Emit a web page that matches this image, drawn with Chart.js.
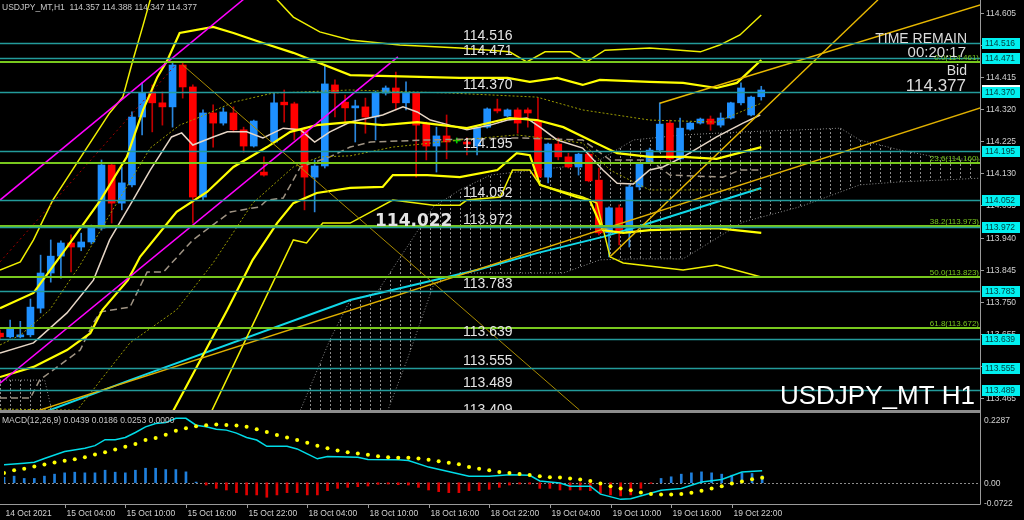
<!DOCTYPE html>
<html>
<head>
<style>
  body { margin: 0; background: #000; }
  #wrap { position: relative; width: 1024px; height: 520px; background: #000; overflow: hidden; }
  canvas { position: absolute; left: 0; }
  #main { top: 0; }
  #macd { top: 410px; }
</style>
<title>USDJPY_MT H1</title>
</head>
<body>
<div id="wrap">
  <canvas id="main" width="1024" height="410"></canvas>
  <canvas id="macd" width="1024" height="110"></canvas>
</div>
<script src="https://cdn.jsdelivr.net/npm/chart.js@4"></script>
<script>
// ---- candles, one per hour, bar 0 = 14 Oct 22:00 ----
var opens  = [113.657,113.646,113.646,113.652,113.731,113.835,113.885,113.924,113.912,113.927,
              113.968,114.155,114.042,114.096,114.297,114.371,114.339,114.327,114.451,114.386,
              114.060,114.309,114.279,114.309,114.259,114.211,114.134,114.223,114.341,114.336,
              114.259,114.119,114.152,114.392,114.341,114.324,114.327,114.297,114.368,114.383,
              114.339,114.368,114.276,114.211,114.241,114.226,114.223,114.211,114.267,114.321,
              114.300,114.318,114.318,114.285,114.119,114.217,114.179,114.149,114.187,114.110,
              113.954,114.028,113.954,114.090,114.164,114.199,114.279,114.173,114.261,114.279,
              114.291,114.273,114.294,114.339,114.303,114.357];
var highs  = [113.666,113.696,113.692,113.758,113.888,113.933,113.930,113.948,113.953,113.977,
              114.170,114.158,114.149,114.312,114.398,114.392,114.371,114.460,114.460,114.392,
              114.318,114.333,114.324,114.327,114.267,114.288,114.179,114.368,114.377,114.341,
              114.267,114.170,114.451,114.407,114.362,114.347,114.353,114.374,114.389,114.430,
              114.401,114.368,114.282,114.267,114.303,114.235,114.235,114.267,114.324,114.350,
              114.321,114.324,114.324,114.353,114.220,114.235,114.190,114.190,114.193,114.146,
              114.031,114.037,114.096,114.161,114.205,114.339,114.288,114.294,114.282,114.294,
              114.300,114.309,114.341,114.398,114.359,114.388];
var lows   = [113.637,113.643,113.643,113.646,113.717,113.808,113.820,113.838,113.901,113.921,
              113.962,113.983,114.022,114.090,114.244,114.253,114.273,114.267,114.353,113.983,
              114.051,114.208,114.273,114.253,114.193,114.208,114.122,114.220,114.282,114.229,
              114.022,114.016,114.146,114.297,114.282,114.223,114.249,114.229,114.362,114.318,
              114.318,114.119,114.170,114.134,114.173,114.220,114.185,114.185,114.264,114.309,
              114.297,114.249,114.267,114.116,114.102,114.170,114.146,114.125,114.105,113.948,
              113.883,113.918,113.912,114.081,114.161,114.193,114.170,114.170,114.258,114.276,
              114.258,114.267,114.291,114.333,114.300,114.347];
var closes = [113.646,113.669,113.652,113.734,113.835,113.885,113.924,113.912,113.927,113.971,
              114.155,114.042,114.102,114.297,114.368,114.339,114.327,114.451,114.386,114.060,
              114.309,114.279,114.312,114.259,114.211,114.285,114.125,114.339,114.333,114.259,
              114.119,114.152,114.395,114.368,114.324,114.330,114.297,114.368,114.383,114.339,
              114.368,114.273,114.211,114.241,114.223,114.226,114.217,114.267,114.321,114.315,
              114.318,114.279,114.309,114.119,114.217,114.179,114.149,114.187,114.108,113.954,
              114.028,113.954,114.090,114.158,114.199,114.276,114.173,114.264,114.279,114.291,
              114.276,114.294,114.339,114.383,114.356,114.377];

// ---- indicator lines: [bar index, price] ----
var bbUp3  = [[0,113.844],[2.0,113.868],[3.3,113.933],[5.2,114.051],[8.6,114.208],[10.8,114.309],[12.1,114.356],
              [13.1,114.466],[14.1,114.569],[14.8,114.644],[17.7,114.792],[23.6,114.762],[27.3,114.644],[28.9,114.593],
              [31.5,114.549],[34.5,114.525],[39.4,114.510],[45.3,114.501],[50.2,114.490],[51.9,114.460],[53.7,114.490],
              [56.2,114.490],[57.8,114.460],[59.6,114.495],[64.0,114.501],[69.0,114.490],[70.9,114.510],[72.9,114.540],[75,114.599]];
var bbUp2  = [[0,113.731],[3.3,113.776],[6.6,113.912],[9.9,114.051],[12.5,114.179],[14.1,114.318],[15.5,114.415],
              [16.5,114.466],[17.7,114.546],[21.0,114.564],[23.0,114.546],[25.6,114.519],[28.9,114.487],[34.5,114.421],
              [45.3,114.413],[50.0,114.413],[52.2,114.401],[54.9,114.413],[57.4,114.392],[59.1,114.407],[64.0,114.401],
              [67.3,114.398],[70.6,114.383],[72.6,114.398],[75,114.466]];
var bbUp1  = [[0,113.622],[2.0,113.651],[4.9,113.726],[7.9,113.859],[10.8,114.007],[14.8,114.205],[17.7,114.273],
              [19.7,114.297],[23.0,114.341],[26.9,114.368],[29.6,114.371],[34.5,114.377],[44.3,114.368],[52.9,114.356],
              [57.4,114.318],[64.0,114.288],[70.6,114.282],[75,114.338]];
var bbMid  = [[0,113.527],[3.3,113.557],[6.6,113.607],[8.9,113.657],[10.1,113.726],[12.6,113.814],[13.8,113.883],
              [17.4,114.016],[20.4,114.075],[23.0,114.149],[26.3,114.208],[28.6,114.253],[31.2,114.273],[34.5,114.282],
              [37.7,114.273],[41.1,114.282],[46.0,114.264],[50.2,114.294],[52.9,114.288],[55.5,114.267],[58.1,114.229],
              [60.8,114.190],[64.0,114.179],[67.3,114.179],[70.6,114.173],[75,114.208]];
var bbLow1 = [[0,113.432],[7.6,113.429],[12.8,113.628],[17.4,113.726],[21.0,113.865],[24.9,114.042],[28.9,114.149],
              [31.5,114.179],[34.5,114.182],[38.7,114.208],[45.3,114.229],[50.9,114.244],[57.4,114.220],[60.1,114.140],
              [64.0,114.081],[75,114.081]];
var bbLow2 = [[14.8,113.281],[17.1,113.429],[22.4,113.726],[24.9,113.874],[27.3,113.983],[28.9,114.042],[31.2,114.072],
              [34.5,114.087],[37.7,114.090],[38.7,114.125],[42.1,114.125],[45.3,114.119],[49.0,114.140],[50.9,114.190],
              [52.2,114.184],[53.2,114.096],[56.8,114.060],[58.1,114.051],[59.4,113.962],[61.4,113.954],[64.0,113.962],
              [70.6,113.968],[75,113.954]];
var bbLow3 = [[18.7,113.281],[20.9,113.429],[25.6,113.726],[28.9,113.933],[30.2,113.924],[31.8,113.983],[34.5,113.983],
              [38.7,114.051],[42.7,114.036],[45.3,114.036],[46.0,114.051],[49.3,114.060],[50.5,114.140],[52.2,114.140],
              [53.2,114.096],[57.4,114.060],[58.8,114.042],[60.1,113.883],[61.4,113.865],[67.3,113.844],[70.6,113.859],[75,113.823]];
var tenkan = [[0,113.598],[3.3,113.628],[6.6,113.717],[9.2,113.814],[10.8,113.933],[13.1,114.051],[14.8,114.140],
              [16.9,114.238],[17.9,114.250],[19.0,114.214],[21.0,114.238],[22.4,114.253],[24.3,114.253],[25.9,114.235],
              [27.9,114.264],[29.6,114.259],[31.0,114.223],[32.5,114.253],[34.5,114.282],[37.7,114.303],[39.7,114.327],
              [41.1,114.312],[42.4,114.288],[44.3,114.273],[46.0,114.259],[48.3,114.273],[50.0,114.288],[51.9,114.294],
              [53.2,114.267],[54.9,114.229],[57.4,114.205],[59.4,114.140],[60.8,114.101],[62.4,114.099],[64.0,114.140],
              [65.3,114.149],[67.3,114.179],[70.6,114.238],[73.2,114.279],[74.9,114.303]];
var kijun  = [[0,113.465],[3.0,113.465],[3.9,113.518],[7.9,113.607],[9.2,113.687],[9.9,113.720],[12.8,113.734],
              [14.5,113.838],[16.1,113.838],[19.0,113.933],[22.7,114.016],[25.6,114.031],[26.3,114.051],[27.9,114.057],
              [29.6,114.149],[32.5,114.179],[34.5,114.208],[36.5,114.223],[42.1,114.229],[50.9,114.235],[57.4,114.229],
              [60.1,114.170],[64.0,114.170],[66.0,114.125],[71.2,114.119],[72.9,114.140],[74.9,114.140]];
var cloudIdx  = [0,4.4,5.1,5.9,27.6,29.6,32.5,34.5,37.1,40.1,42.7,45.3,48.3,50.9,55.5,59.1,62.4,67.3,73.2,78.8,82.8,84.7,88.7,92.6,96.6];
var cloudTop  = [113.518,113.518,113.429,113.370,113.370,113.429,113.637,113.755,113.776,113.912,114.031,114.081,114.125,
                 114.134,114.149,114.170,114.229,114.244,114.253,114.259,114.264,114.229,114.199,114.176,114.170];
var cloudBase = [113.429,113.429,113.400,113.341,113.341,113.341,113.341,113.341,113.341,113.577,113.799,113.835,113.835,
                 113.835,113.835,113.874,113.877,113.877,113.986,114.031,114.075,114.096,114.105,114.110,114.116];
var maCyan    = [[0,113.373],[4.9,113.429],[12.8,113.518],[34.5,113.755],[47.0,113.844],[52.9,113.894],[59.4,113.942],[64.0,113.983],[75,114.087]];
var chikouRed = [[0,113.868],[17.2,114.448]];
var chanHigh  = [[0,114.051],[24.5,114.658]];
var chanLow   = [[0,113.509],[39.2,114.475]];
var trendLong = [[3.9,113.429],[96.6,114.324]];
var trendUp   = [[60.1,113.883],[86.5,114.644]];
var trendTop  = [[65.0,114.338],[96.6,114.629]];
var trendDown = [[18.0,114.451],[57.1,113.429]];

// ---- levels and labels ----
var tealLevels = [114.516,114.471,114.370,114.195,114.052,113.972,113.783,113.639,113.555,113.489,113.409];
var fibLevels  = [114.461,114.160,113.973,113.823,113.672];
var fibNames   = ['0.0','23.6','38.2','50.0','61.8'];
var yTicks     = [114.605,114.510,114.415,114.320,114.225,114.130,114.035,113.940,113.845,113.750,113.655,113.560,113.465];
var bidPrice   = 114.377;
var markLabel  = '114.022';
var timeIdx    = [0,6,12,18,24,30,36,42,48,54,60,66,72];
var timeLabels = ['14 Oct 2021','15 Oct 04:00','15 Oct 10:00','15 Oct 16:00','15 Oct 22:00','18 Oct 04:00','18 Oct 10:00',
                  '18 Oct 16:00','18 Oct 22:00','19 Oct 04:00','19 Oct 10:00','19 Oct 16:00','19 Oct 22:00'];

// ---- MACD(12,26,9) ----
var macdLine = [[0,0.0655],[2,0.0713],[3,0.0749],[4,0.0882],[6,0.1134],[8,0.1253],[9,0.135],[10,0.1566],[11,0.1566],
                [12,0.1649],[13,0.1829],[14,0.2034],[15,0.2153],[16,0.2189],[17,0.2347],[18,0.2347],[19,0.2095],[20,0.2034],
                [21,0.1951],[22,0.1915],[23,0.1807],[24,0.1649],[25,0.1555],[26,0.1325],[28,0.1325],[29,0.1231],[30,0.1051],
                [31,0.0871],[32,0.0954],[35,0.0929],[36,0.0846],[39,0.0835],[40,0.081],[42,0.0569],[46,0.0234],[48,0.0234],
                [50,0.0295],[52,0.027],[53,0.0065],[55,-0.0007],[56,-0.0126],[58,-0.0126],[59,-0.0414],[61,-0.0605],
                [62,-0.0583],[65,-0.027],[67,-0.0209],[69,0.0029],[71,0.0115],[73,0.0389],[75,0.0439]];
var macdSignal = [0.0353,0.0450,0.0511,0.0594,0.0666,0.0738,0.0799,0.0857,0.0929,0.1026,
                  0.1109,0.1206,0.1314,0.1411,0.1555,0.1627,0.1746,0.1890,0.1987,0.2059,
                  0.2095,0.2117,0.2106,0.2081,0.2034,0.1951,0.1843,0.1735,0.1649,0.1555,
                  0.1458,0.1350,0.1253,0.1170,0.1109,0.1062,0.1015,0.0965,0.0929,0.0907,
                  0.0907,0.0882,0.0835,0.0785,0.0727,0.0677,0.0569,0.0511,0.0450,0.0389,
                  0.0353,0.0317,0.0281,0.0234,0.0198,0.0187,0.0151,0.0115,0.0065,-0.0029,
                  -0.0126,-0.0209,-0.0270,-0.0353,-0.0414,-0.0425,-0.0425,-0.0414,-0.0367,-0.0295,
                  -0.0209,-0.0126,-0.0029,0.0043,0.0126,0.0186];
var macdHist = [0.020,0.024,0.0156,0.0156,0.024,0.0312,0.036,0.0384,0.036,0.036,
                0.0456,0.0384,0.036,0.0456,0.0528,0.0528,0.048,0.048,0.0396,0.0024,
                -0.0084,-0.0204,-0.0264,-0.036,-0.0444,-0.0444,-0.0528,-0.0444,-0.036,-0.036,
                -0.0444,-0.0444,-0.0288,-0.0204,-0.0168,-0.0144,-0.012,-0.006,-0.0048,-0.0072,
                -0.0084,-0.0168,-0.0264,-0.0324,-0.036,-0.036,-0.0288,-0.0288,-0.024,-0.0168,
                -0.0084,-0.0048,-0.0048,-0.0204,-0.0204,-0.0264,-0.0264,-0.0264,-0.0288,-0.0384,
                -0.0444,-0.048,-0.0444,-0.0204,-0.0024,0.0156,0.0216,0.0312,0.036,0.0396,
                0.036,0.0312,0.0276,0.036,0.0336,0.0253];
var macdMarks = [0.2287,0.00,-0.0722];
var macdMarkText = ['0.2287','0.00','-0.0722'];

var X_MAX = 96.55;
var SMALL = '8.5px "Liberation Sans"';
Chart.defaults.font.family = '"Liberation Sans", Arial, sans-serif';
Chart.defaults.animation = false;

function pts(a) {
	return a.map(function (p) { return {x: p[0], y: p[1]}; });
}
function line(data, color, width, dash) {
	return {type: 'line', data: pts(data), borderColor: color, borderWidth: width,
		borderDash: dash || [], pointRadius: 0, tension: 0, fill: false};
}
function candleColor(i, up, down, flat) {
	if (opens[i] === closes[i]) return flat;
	return closes[i] > opens[i] ? up : down;
}
function hatch() {
	var c = document.createElement('canvas');
	c.width = 10; c.height = 4;
	var g = c.getContext('2d');
	g.fillStyle = '#8a8a8a';
	g.fillRect(0, 0, 1, 2);
	return g.createPattern(c, 'repeat');
}

var bodies = [], wicks = [], cloudA = [], cloudB = [];
for (var i = 0; i < opens.length; i++) {
	bodies.push({x: i, y: [opens[i], closes[i]]});
	wicks.push({x: i, y: [lows[i], highs[i]]});
}
for (var k = 0; k < cloudIdx.length; k++) {
	cloudA.push([cloudIdx[k], cloudTop[k]]);
	cloudB.push([cloudIdx[k], cloudBase[k]]);
}

function hLine(ctx, a, py) {
	ctx.beginPath(); ctx.moveTo(a.left, py); ctx.lineTo(a.right, py); ctx.stroke();
}

var mainPlugin = {
	id: 'mainPlugin',
	afterDatasetsDraw: function (chart) {
		var ctx = chart.ctx, a = chart.chartArea, ys = chart.scales.y;
		ctx.save();
		ctx.lineWidth = 2; ctx.strokeStyle = '#78c81e';
		fibLevels.forEach(function (v) { hLine(ctx, a, Math.round(ys.getPixelForValue(v))); });
		ctx.lineWidth = 1.5; ctx.strokeStyle = '#239b9b';
		tealLevels.forEach(function (v) { hLine(ctx, a, Math.round(ys.getPixelForValue(v)) + 0.5); });
		ctx.restore();
	},
	afterDraw: function (chart) {
		var ctx = chart.ctx, a = chart.chartArea, ys = chart.scales.y;
		ctx.save();
		// level texts
		ctx.textAlign = 'left'; ctx.textBaseline = 'alphabetic';
		ctx.fillStyle = '#e4e4e4'; ctx.font = '14px "Liberation Sans"';
		tealLevels.forEach(function (v) { ctx.fillText(v.toFixed(3), 463, ys.getPixelForValue(v) - 3); });
		ctx.font = 'bold 17px "DejaVu Sans"';
		ctx.fillText(markLabel, 375, ys.getPixelForValue(tealLevels[5]) - 1);
		// fibo texts
		ctx.font = '8px "Liberation Sans"'; ctx.fillStyle = '#78c81e'; ctx.textAlign = 'right';
		fibLevels.forEach(function (v, n) {
			ctx.fillText(fibNames[n] + '(' + v.toFixed(3) + ')', a.right - 1, ys.getPixelForValue(v) - 2);
		});
		// header
		ctx.textAlign = 'left'; ctx.fillStyle = '#c8c8c8'; ctx.font = SMALL;
		ctx.fillText('USDJPY_MT,H1  ' + opens[75].toFixed(3) + ' ' + highs[75].toFixed(3) + ' ' +
			lows[75].toFixed(3) + ' ' + closes[75].toFixed(3), 2, 10);
		// time remain / bid block
		ctx.textAlign = 'right'; ctx.fillStyle = '#dcdcdc';
		ctx.font = '14px "Liberation Sans"'; ctx.fillText('TIME REMAIN', 967, 43);
		ctx.font = '15px "Liberation Sans"'; ctx.fillText('00:20:17', 966, 57);
		ctx.font = '14px "Liberation Sans"'; ctx.fillText('Bid', 967, 75);
		ctx.font = '17px "Liberation Sans"'; ctx.fillText(bidPrice.toFixed(3), 966, 91);
		ctx.fillStyle = '#ffffff'; ctx.font = '26px "Liberation Sans"';
		ctx.fillText('USDJPY_MT H1', 975, 404);
		// price axis
		ctx.strokeStyle = '#9a9a9a'; ctx.lineWidth = 1;
		ctx.beginPath(); ctx.moveTo(a.right + 0.5, 0); ctx.lineTo(a.right + 0.5, chart.height); ctx.stroke();
		ctx.textAlign = 'left'; ctx.textBaseline = 'middle'; ctx.font = SMALL; ctx.fillStyle = '#d0d0d0';
		yTicks.forEach(function (v) {
			var py = Math.round(ys.getPixelForValue(v)) + 0.5;
			ctx.beginPath(); ctx.moveTo(a.right, py); ctx.lineTo(a.right + 4, py); ctx.stroke();
			ctx.fillText(v.toFixed(3), a.right + 6, py);
		});
		function box(v, bg, fg) {
			var py = Math.round(ys.getPixelForValue(v));
			ctx.fillStyle = bg; ctx.fillRect(a.right + 2, py - 5, 38, 11);
			ctx.fillStyle = fg; ctx.fillText(v.toFixed(3), a.right + 5, py + 0.5);
		}
		box(bidPrice, '#ffffff', '#000000');
		tealLevels.forEach(function (v) { if (v > ys.min) box(v, '#00f0f0', '#003c3c'); });
		ctx.restore();
	}
};

var hatchFill = hatch();
new Chart(document.getElementById('main'), {
	type: 'line',
	data: {
		datasets: [
			line(chanHigh, '#ff00ff', 1.5),
			line(chanLow, '#ff00ff', 1.5),
			line(trendLong, '#e0b000', 1.5),
			line(trendUp, '#e8b800', 1.5),
			line(trendTop, '#e8b800', 1.5),
			line(trendDown, '#a88a00', 1),
			line(chikouRed, '#a00000', 1, [2, 3]),
			line(bbUp3, '#f0f000', 1.5),
			line(bbLow3, '#f0f000', 1.5),
			line(bbUp2, '#ffff00', 2.2),
			line(bbLow2, '#ffff00', 2.2),
			line(bbMid, '#ffff00', 2.2),
			line(bbUp1, '#9a9a00', 1, [2, 2]),
			line(bbLow1, '#9a9a00', 1, [2, 2]),
			line(tenkan, '#e6d6c6', 1.5),
			line(kijun, '#a09484', 1.5, [7, 4]),
			line(maCyan, '#10d8e8', 2),
			{type: 'bar', data: bodies, grouped: false, barThickness: 7, minBarLength: 1,
				backgroundColor: function (c) { return candleColor(c.dataIndex, '#1e90ff', '#ff0000', '#00d000'); }},
			{type: 'bar', data: wicks, grouped: false, barThickness: 1,
				backgroundColor: function (c) { return candleColor(c.dataIndex, '#2a86dc', '#c00000', '#00d000'); }},
			line(cloudA, '#8a8a8a', 1, [1, 2]),
			Object.assign(line(cloudB, '#8a8a8a', 1, [1, 2]), {fill: '-1', backgroundColor: hatchFill})
		]
	},
	options: {
		responsive: false,
		layout: {padding: {left: 0, right: 44, top: 0, bottom: 0}},
		plugins: {legend: {display: false}, tooltip: {enabled: false}},
		scales: {
			x: {type: 'linear', display: false, min: 0, max: X_MAX, offset: false},
			y: {type: 'linear', display: false, min: 113.4294, max: 114.6435}
		}
	},
	plugins: [mainPlugin]
});

var macdPlugin = {
	id: 'macdPlugin',
	beforeDatasetsDraw: function (chart) {
		var ctx = chart.ctx, a = chart.chartArea, ys = chart.scales.y;
		ctx.save();
		ctx.strokeStyle = '#8c8c8c'; ctx.lineWidth = 1; ctx.setLineDash([2, 2]);
		hLine(ctx, a, Math.round(ys.getPixelForValue(0)) + 0.5);
		ctx.restore();
	},
	afterDraw: function (chart) {
		var ctx = chart.ctx, a = chart.chartArea, ys = chart.scales.y, xs = chart.scales.x;
		ctx.save();
		ctx.fillStyle = '#8c8c8c'; ctx.fillRect(0, 0, a.right, 3);
		ctx.strokeStyle = '#9a9a9a'; ctx.lineWidth = 1;
		ctx.beginPath(); ctx.moveTo(a.right + 0.5, 0); ctx.lineTo(a.right + 0.5, a.bottom + 0.5);
		ctx.lineTo(0, a.bottom + 0.5); ctx.stroke();
		ctx.fillStyle = '#c8c8c8'; ctx.font = SMALL; ctx.textBaseline = 'alphabetic';
		ctx.fillText('MACD(12,26,9) ' + macdLine[macdLine.length - 1][1].toFixed(4) + ' ' +
			macdSignal[macdSignal.length - 1].toFixed(4) + ' ' + macdHist[macdHist.length - 1].toFixed(4) + ' 0.0000', 2, 13);
		ctx.textBaseline = 'middle'; ctx.fillStyle = '#d0d0d0';
		macdMarks.forEach(function (v, n) {
			ctx.fillText(macdMarkText[n], a.right + 4, ys.getPixelForValue(v) + 1);
		});
		ctx.textBaseline = 'alphabetic';
		timeIdx.forEach(function (t, n) {
			var px = Math.round(xs.getPixelForValue(t)) + 0.5;
			if (n > 0) {
				ctx.beginPath(); ctx.moveTo(px, a.bottom); ctx.lineTo(px, a.bottom + 4); ctx.stroke();
			}
			ctx.fillText(timeLabels[n], px + 1, a.bottom + 12);
		});
		ctx.restore();
	}
};

new Chart(document.getElementById('macd'), {
	type: 'bar',
	data: {
		datasets: [
			{type: 'line', data: macdSignal.map(function (v, n) { return {x: n, y: v}; }), showLine: false,
				pointRadius: 2, pointBackgroundColor: '#ffff00', pointBorderWidth: 0},
			{type: 'line', data: pts(macdLine), borderColor: '#00dce8', borderWidth: 1.5, pointRadius: 0, tension: 0},
			{type: 'bar', data: macdHist.map(function (v, n) { return {x: n, y: v}; }), grouped: false, barThickness: 2,
				backgroundColor: function (c) { return macdHist[c.dataIndex] >= 0 ? '#1f7fdc' : '#e00000'; }}
		]
	},
	options: {
		responsive: false,
		layout: {padding: {left: 0, right: 44, top: 3, bottom: 16}},
		plugins: {legend: {display: false}, tooltip: {enabled: false}},
		scales: {
			x: {type: 'linear', display: false, min: 0, max: X_MAX, offset: false},
			y: {type: 'linear', display: false, min: -0.0774, max: 0.2502}
		}
	},
	plugins: [macdPlugin]
});
</script>
</body>
</html>
